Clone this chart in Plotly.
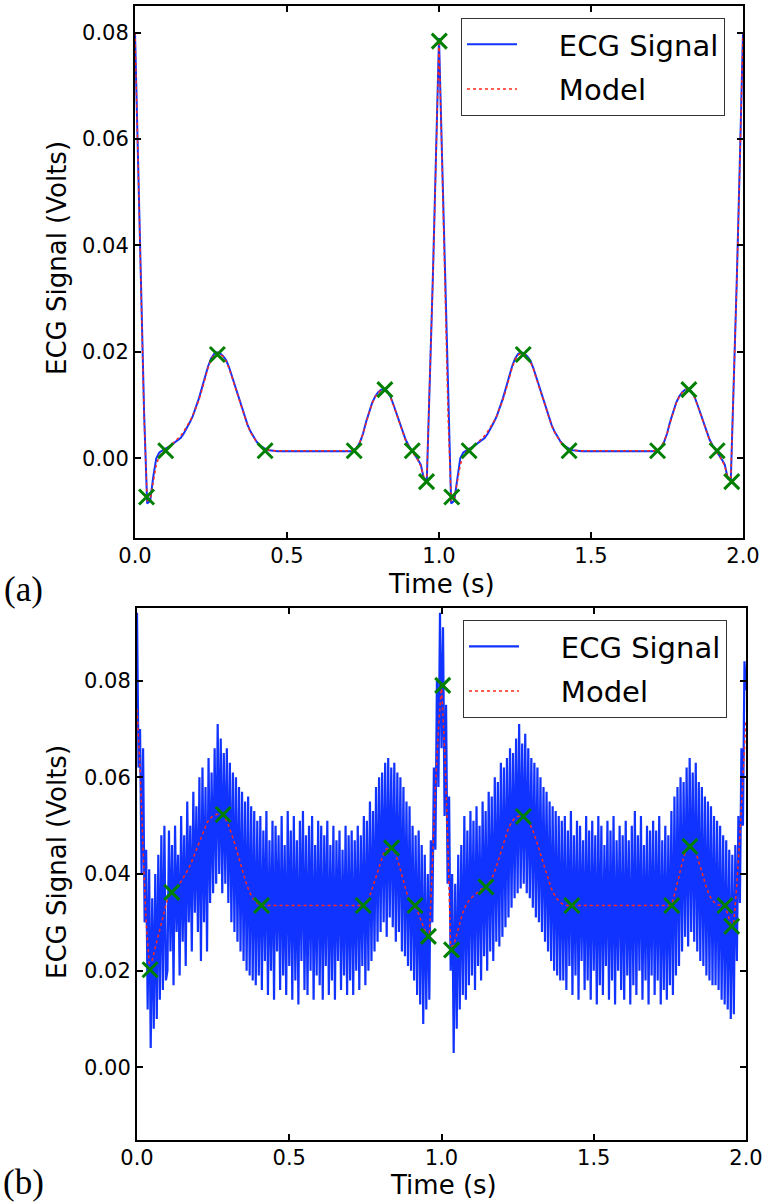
import numpy as np
import plotly.graph_objects as go

# ---------------- data ----------------
# (a) clean ECG, sampled every 0.01 s from 0.00 to 2.00 s
ecg_clean = [
    0.0800, 0.0567, 0.0344, 0.0084, -0.0085, -0.0080, -0.0035, 0.0000, 0.0011, 0.0015,
    0.0018, 0.0021, 0.0025, 0.0029, 0.0033, 0.0038, 0.0046, 0.0056, 0.0067, 0.0079,
    0.0094, 0.0112, 0.0132, 0.0153, 0.0172, 0.0187, 0.0196, 0.0199, 0.0197, 0.0192,
    0.0184, 0.0170, 0.0152, 0.0132, 0.0113, 0.0095, 0.0078, 0.0063, 0.0050, 0.0040,
    0.0031, 0.0024, 0.0020, 0.0017, 0.0015, 0.0014, 0.0013, 0.0013, 0.0013, 0.0013,
    0.0013, 0.0013, 0.0013, 0.0013, 0.0013, 0.0013, 0.0013, 0.0013, 0.0013, 0.0013,
    0.0013, 0.0013, 0.0013, 0.0013, 0.0013, 0.0013, 0.0013, 0.0013, 0.0013, 0.0013,
    0.0013, 0.0013, 0.0015, 0.0020, 0.0030, 0.0046, 0.0068, 0.0088, 0.0104, 0.0116,
    0.0124, 0.0129, 0.0130, 0.0126, 0.0116, 0.0101, 0.0084, 0.0068, 0.0050, 0.0035,
    0.0024, 0.0016, 0.0008, -0.0002, -0.0012, -0.0038, -0.0040, 0.0145, 0.0344, 0.0567,
    0.0790, 0.0567, 0.0344, 0.0084, -0.0085, -0.0080, -0.0035, 0.0000, 0.0011, 0.0015,
    0.0018, 0.0021, 0.0025, 0.0029, 0.0033, 0.0038, 0.0046, 0.0056, 0.0067, 0.0079,
    0.0094, 0.0112, 0.0132, 0.0153, 0.0172, 0.0187, 0.0196, 0.0199, 0.0197, 0.0192,
    0.0184, 0.0170, 0.0152, 0.0132, 0.0113, 0.0095, 0.0078, 0.0063, 0.0050, 0.0040,
    0.0031, 0.0024, 0.0020, 0.0017, 0.0015, 0.0014, 0.0013, 0.0013, 0.0013, 0.0013,
    0.0013, 0.0013, 0.0013, 0.0013, 0.0013, 0.0013, 0.0013, 0.0013, 0.0013, 0.0013,
    0.0013, 0.0013, 0.0013, 0.0013, 0.0013, 0.0013, 0.0013, 0.0013, 0.0013, 0.0013,
    0.0013, 0.0013, 0.0015, 0.0020, 0.0030, 0.0046, 0.0068, 0.0088, 0.0104, 0.0116,
    0.0124, 0.0129, 0.0130, 0.0126, 0.0116, 0.0101, 0.0084, 0.0068, 0.0050, 0.0035,
    0.0024, 0.0016, 0.0008, -0.0002, -0.0012, -0.0038, -0.0040, 0.0145, 0.0344, 0.0567,
    0.0800,
]

model_clean = [
    0.0800, 0.0560, 0.0330, 0.0075, -0.0080, -0.0078, -0.0045, -0.0012, 0.0004, 0.0012,
    0.0017, 0.0021, 0.0026, 0.0031, 0.0036, 0.0042, 0.0050, 0.0059, 0.0069, 0.0080,
    0.0093, 0.0109, 0.0128, 0.0149, 0.0169, 0.0185, 0.0194, 0.0197, 0.0196, 0.0191,
    0.0182, 0.0168, 0.0150, 0.0131, 0.0112, 0.0094, 0.0077, 0.0062, 0.0049, 0.0038,
    0.0030, 0.0024, 0.0019, 0.0016, 0.0015, 0.0014, 0.0014, 0.0014, 0.0014, 0.0014,
    0.0014, 0.0014, 0.0014, 0.0014, 0.0014, 0.0014, 0.0014, 0.0014, 0.0014, 0.0014,
    0.0014, 0.0014, 0.0014, 0.0014, 0.0014, 0.0014, 0.0014, 0.0014, 0.0014, 0.0014,
    0.0014, 0.0014, 0.0016, 0.0021, 0.0031, 0.0046, 0.0066, 0.0086, 0.0103, 0.0115,
    0.0123, 0.0128, 0.0129, 0.0125, 0.0115, 0.0100, 0.0083, 0.0066, 0.0049, 0.0034,
    0.0023, 0.0015, 0.0007, -0.0003, -0.0015, -0.0036, -0.0036, 0.0140, 0.0340, 0.0560,
    0.0785, 0.0560, 0.0330, 0.0075, -0.0080, -0.0078, -0.0045, -0.0012, 0.0004, 0.0012,
    0.0017, 0.0021, 0.0026, 0.0031, 0.0036, 0.0042, 0.0050, 0.0059, 0.0069, 0.0080,
    0.0093, 0.0109, 0.0128, 0.0149, 0.0169, 0.0185, 0.0194, 0.0197, 0.0196, 0.0191,
    0.0182, 0.0168, 0.0150, 0.0131, 0.0112, 0.0094, 0.0077, 0.0062, 0.0049, 0.0038,
    0.0030, 0.0024, 0.0019, 0.0016, 0.0015, 0.0014, 0.0014, 0.0014, 0.0014, 0.0014,
    0.0014, 0.0014, 0.0014, 0.0014, 0.0014, 0.0014, 0.0014, 0.0014, 0.0014, 0.0014,
    0.0014, 0.0014, 0.0014, 0.0014, 0.0014, 0.0014, 0.0014, 0.0014, 0.0014, 0.0014,
    0.0014, 0.0014, 0.0016, 0.0021, 0.0031, 0.0046, 0.0066, 0.0086, 0.0103, 0.0115,
    0.0123, 0.0128, 0.0129, 0.0125, 0.0115, 0.0100, 0.0083, 0.0066, 0.0049, 0.0034,
    0.0023, 0.0015, 0.0007, -0.0003, -0.0015, -0.0036, -0.0036, 0.0140, 0.0340, 0.0560,
    0.0800,
]

fit_t_a = [0.038, 0.101, 0.271, 0.428, 0.721, 0.822, 0.912, 0.959, 1.001,
           1.042, 1.099, 1.277, 1.428, 1.719, 1.822, 1.915, 1.963]
fit_v_a = [-0.0073, 0.0014, 0.0195, 0.0014, 0.0014, 0.0129, 0.0014, -0.0044, 0.0784,
           -0.0073, 0.0014, 0.0195, 0.0014, 0.0014, 0.0129, 0.0014, -0.0044]

# (b) noisy ECG, sampled every 0.005 s from 0.000 to 2.000 s
ecg_noisy = [
    0.094, 0.062, 0.070, 0.040, 0.066, 0.030, 0.045, 0.012, 0.041, 0.004,
    0.035, 0.008, 0.040, 0.010, 0.044, 0.014, 0.048, 0.016, 0.050, 0.018,
    0.020, 0.049, 0.024, 0.046, 0.017, 0.050, 0.028, 0.044, 0.019, 0.052,
    0.026, 0.048, 0.021, 0.055, 0.030, 0.050, 0.024, 0.057, 0.032, 0.054,
    0.028, 0.060, 0.022, 0.062, 0.030, 0.058, 0.024, 0.064, 0.034, 0.061,
    0.036, 0.066, 0.038, 0.071, 0.040, 0.068, 0.036, 0.065, 0.038, 0.066,
    0.034, 0.063, 0.030, 0.061, 0.028, 0.060, 0.026, 0.058, 0.024, 0.057,
    0.022, 0.055, 0.020, 0.056, 0.019, 0.054, 0.018, 0.053, 0.017, 0.051,
    0.019, 0.052, 0.016, 0.049, 0.022, 0.053, 0.015, 0.047, 0.020, 0.051,
    0.014, 0.050, 0.024, 0.048, 0.016, 0.052, 0.019, 0.046, 0.015, 0.053,
    0.021, 0.049, 0.014, 0.052, 0.018, 0.047, 0.013, 0.051, 0.022, 0.053,
    0.016, 0.048, 0.015, 0.050, 0.020, 0.052, 0.014, 0.046, 0.019, 0.051,
    0.017, 0.050, 0.014, 0.048, 0.021, 0.051, 0.015, 0.046, 0.018, 0.050,
    0.014, 0.047, 0.022, 0.049, 0.016, 0.045, 0.019, 0.050, 0.015, 0.048,
    0.018, 0.049, 0.015, 0.047, 0.020, 0.050, 0.016, 0.048, 0.021, 0.052,
    0.017, 0.051, 0.020, 0.055, 0.022, 0.053, 0.024, 0.058, 0.026, 0.060,
    0.028, 0.061, 0.030, 0.063, 0.027, 0.064, 0.031, 0.062, 0.029, 0.063,
    0.026, 0.061, 0.028, 0.060, 0.024, 0.058, 0.023, 0.055, 0.021, 0.054,
    0.020, 0.050, 0.018, 0.048, 0.015, 0.049, 0.013, 0.046, 0.009, 0.044,
    0.012, 0.040, 0.014, 0.047, 0.030, 0.062, 0.045, 0.080, 0.058, 0.094,
    0.066, 0.091, 0.052, 0.075, 0.038, 0.056, 0.020, 0.040, 0.003, 0.038,
    0.008, 0.044, 0.012, 0.046, 0.015, 0.052, 0.014, 0.049, 0.017, 0.053,
    0.019, 0.051, 0.016, 0.054, 0.021, 0.050, 0.018, 0.055, 0.023, 0.053,
    0.020, 0.057, 0.024, 0.056, 0.022, 0.060, 0.026, 0.059, 0.025, 0.063,
    0.027, 0.062, 0.029, 0.064, 0.031, 0.066, 0.033, 0.065, 0.035, 0.068,
    0.036, 0.071, 0.037, 0.067, 0.038, 0.069, 0.036, 0.066, 0.035, 0.064,
    0.033, 0.063, 0.031, 0.062, 0.030, 0.060, 0.028, 0.058, 0.026, 0.057,
    0.024, 0.055, 0.022, 0.054, 0.020, 0.053, 0.019, 0.052, 0.018, 0.051,
    0.018, 0.052, 0.016, 0.049, 0.021, 0.053, 0.015, 0.048, 0.019, 0.051,
    0.014, 0.050, 0.022, 0.047, 0.016, 0.052, 0.018, 0.049, 0.014, 0.051,
    0.020, 0.048, 0.013, 0.052, 0.017, 0.050, 0.015, 0.046, 0.021, 0.051,
    0.014, 0.049, 0.018, 0.052, 0.013, 0.047, 0.020, 0.050, 0.016, 0.048,
    0.014, 0.051, 0.019, 0.047, 0.013, 0.050, 0.017, 0.053, 0.015, 0.048,
    0.020, 0.052, 0.014, 0.046, 0.018, 0.050, 0.013, 0.049, 0.019, 0.051,
    0.015, 0.049, 0.018, 0.052, 0.013, 0.047, 0.016, 0.050, 0.014, 0.048,
    0.017, 0.053, 0.015, 0.056, 0.019, 0.058, 0.021, 0.060, 0.024, 0.059,
    0.027, 0.062, 0.025, 0.064, 0.028, 0.061, 0.026, 0.063, 0.024, 0.059,
    0.022, 0.058, 0.021, 0.056, 0.019, 0.055, 0.018, 0.054, 0.017, 0.052,
    0.017, 0.051, 0.016, 0.050, 0.014, 0.048, 0.013, 0.047, 0.012, 0.045,
    0.010, 0.044, 0.011, 0.046, 0.022, 0.052, 0.034, 0.066, 0.050, 0.084,
    0.078,
]

model_noisy = [
    0.0740, 0.0620, 0.0450, 0.0300, 0.0215, 0.0222, 0.0248, 0.0274, 0.0300, 0.0326,
    0.0348, 0.0358, 0.0365, 0.0372, 0.0380, 0.0390, 0.0400, 0.0412, 0.0426, 0.0442,
    0.0460, 0.0478, 0.0494, 0.0506, 0.0515, 0.0520, 0.0523, 0.0524, 0.0522, 0.0515,
    0.0502, 0.0485, 0.0465, 0.0443, 0.0420, 0.0398, 0.0378, 0.0362, 0.0350, 0.0342,
    0.0337, 0.0335, 0.0335, 0.0335, 0.0335, 0.0335, 0.0335, 0.0335, 0.0335, 0.0335,
    0.0335, 0.0335, 0.0335, 0.0335, 0.0335, 0.0335, 0.0335, 0.0335, 0.0335, 0.0335,
    0.0335, 0.0335, 0.0335, 0.0335, 0.0335, 0.0335, 0.0335, 0.0335, 0.0335, 0.0335,
    0.0335, 0.0335, 0.0335, 0.0335, 0.0335, 0.0338, 0.0348, 0.0365, 0.0385, 0.0408,
    0.0428, 0.0443, 0.0452, 0.0456, 0.0453, 0.0440, 0.0420, 0.0396, 0.0372, 0.0352,
    0.0340, 0.0336, 0.0325, 0.0310, 0.0292, 0.0275, 0.0272, 0.0420, 0.0580, 0.0700,
    0.0790, 0.0660, 0.0480, 0.0250, 0.0252, 0.0275, 0.0300, 0.0320, 0.0335, 0.0345,
    0.0352, 0.0358, 0.0363, 0.0368, 0.0372, 0.0376, 0.0385, 0.0398, 0.0415, 0.0436,
    0.0458, 0.0478, 0.0495, 0.0507, 0.0515, 0.0519, 0.0520, 0.0519, 0.0514, 0.0504,
    0.0490, 0.0472, 0.0452, 0.0430, 0.0408, 0.0388, 0.0371, 0.0358, 0.0348, 0.0341,
    0.0337, 0.0335, 0.0335, 0.0335, 0.0335, 0.0335, 0.0335, 0.0335, 0.0335, 0.0335,
    0.0335, 0.0335, 0.0335, 0.0335, 0.0335, 0.0335, 0.0335, 0.0335, 0.0335, 0.0335,
    0.0335, 0.0335, 0.0335, 0.0335, 0.0335, 0.0335, 0.0335, 0.0335, 0.0335, 0.0335,
    0.0335, 0.0335, 0.0335, 0.0335, 0.0335, 0.0335, 0.0345, 0.0368, 0.0395, 0.0422,
    0.0445, 0.0456, 0.0457, 0.0450, 0.0435, 0.0415, 0.0393, 0.0372, 0.0356, 0.0345,
    0.0339, 0.0336, 0.0335, 0.0333, 0.0318, 0.0295, 0.0300, 0.0380, 0.0480, 0.0600,
    0.0720,
]

fit_t_b = [0.043, 0.114, 0.283, 0.409, 0.743, 0.836, 0.913, 0.957, 1.004,
           1.033, 1.146, 1.269, 1.428, 1.756, 1.816, 1.931, 1.953]
fit_v_b = [0.0202, 0.0362, 0.0523, 0.0335, 0.0335, 0.0454, 0.0335, 0.0271, 0.0790,
           0.0243, 0.0373, 0.0519, 0.0335, 0.0335, 0.0457, 0.0335, 0.0292]

x_ticks = [0.0, 0.5, 1.0, 1.5, 2.0]
x_ticklabels = ["0.0", "0.5", "1.0", "1.5", "2.0"]
y_ticks = [0.00, 0.02, 0.04, 0.06, 0.08]
y_ticklabels = ["0.00", "0.02", "0.04", "0.06", "0.08"]

# sampling grids
t_clean = np.linspace(0.0, 2.0, len(ecg_clean))
t_noisy = np.linspace(0.0, 2.0, len(ecg_noisy))
t_model_b = np.linspace(0.0, 2.0, len(model_noisy))

# ---------------- figure ----------------
W, H = 769, 1204
BLUE = "#1133ff"
RED = "#ff2a1a"
GREEN = "#008000"
FONT = "DejaVu Sans"
PAD = "\u00a0\u00a0\u00a0\u00a0"

fig = go.Figure()

fig.add_trace(go.Scatter(x=t_clean, y=ecg_clean, mode="lines", name=PAD + "ECG Signal",
                         line=dict(color=BLUE, width=2), xaxis="x", yaxis="y",
                         legend="legend", legendgroup="a1"))
fig.add_trace(go.Scatter(x=t_clean, y=model_clean, mode="lines", name=PAD + "Model",
                         line=dict(color=RED, width=1.5, dash="dot"), xaxis="x", yaxis="y",
                         legend="legend", legendgroup="a2"))
fig.add_trace(go.Scatter(x=fit_t_a, y=fit_v_a, mode="markers", showlegend=False,
                         marker=dict(symbol="x-thin", size=15, color=GREEN,
                                     line=dict(color=GREEN, width=3)),
                         xaxis="x", yaxis="y"))

fig.add_trace(go.Scatter(x=t_noisy, y=ecg_noisy, mode="lines", name=PAD + "ECG Signal",
                         line=dict(color=BLUE, width=2.2), xaxis="x2", yaxis="y2",
                         legend="legend2", legendgroup="b1"))
fig.add_trace(go.Scatter(x=t_model_b, y=model_noisy, mode="lines", name=PAD + "Model",
                         line=dict(color=RED, width=1.5, dash="dot"), xaxis="x2", yaxis="y2",
                         legend="legend2", legendgroup="b2"))
fig.add_trace(go.Scatter(x=fit_t_b, y=fit_v_b, mode="markers", showlegend=False,
                         marker=dict(symbol="x-thin", size=15, color=GREEN,
                                     line=dict(color=GREEN, width=3)),
                         xaxis="x2", yaxis="y2"))

axis_common = dict(ticks="inside", ticklen=6, tickwidth=1.5, tickcolor="black",
                   showline=True, linewidth=2, linecolor="black", mirror="allticks",
                   showgrid=False, zeroline=False, automargin=False,
                   tickfont=dict(family=FONT, size=21, color="black"))
xaxis_extra = dict(ticklabelstandoff=-2)

legend_common = dict(xanchor="left", yanchor="top", bgcolor="white",
                     bordercolor="#333333", borderwidth=1,
                     font=dict(family=FONT, size=29, color="black"),
                     traceorder="grouped", tracegroupgap=4, itemwidth=50)

fig.update_layout(
    width=W, height=H, autosize=False,
    margin=dict(l=0, r=0, t=0, b=0, pad=0, autoexpand=False),
    paper_bgcolor="white", plot_bgcolor="white",
    font=dict(family=FONT, color="black"),
    xaxis=dict(domain=[135 / W, 743 / W], range=[0, 2], anchor="y",
               tickvals=x_ticks, ticktext=x_ticklabels, **axis_common, **xaxis_extra),
    yaxis=dict(domain=[1 - 538 / H, 1 - 6 / H], range=[-0.015, 0.085], anchor="x",
               tickvals=y_ticks, ticktext=y_ticklabels, **axis_common),
    xaxis2=dict(domain=[137 / W, 746 / W], range=[0, 2], anchor="y2",
                tickvals=x_ticks, ticktext=x_ticklabels, **axis_common, **xaxis_extra),
    yaxis2=dict(domain=[1 - 1140 / H, 1 - 608 / H], range=[-0.015, 0.095], anchor="x2",
                tickvals=y_ticks, ticktext=y_ticklabels, **axis_common),
    legend=dict(x=461 / W, y=1 - 18 / H, **legend_common),
    legend2=dict(x=463 / W, y=1 - 620 / H, **legend_common),
)

annots = [
    dict(text="ECG Signal (Volts)", x=57 / W, y=1 - 258 / H, textangle=-90,
         font=dict(family=FONT, size=26), yanchor="middle"),
    dict(text="ECG Signal (Volts)", x=57 / W, y=1 - 862 / H, textangle=-90,
         font=dict(family=FONT, size=26), yanchor="middle"),
    dict(text="Time (s)", x=441 / W, y=1 - 584 / H, font=dict(family=FONT, size=26),
         yanchor="middle"),
    dict(text="Time (s)", x=443 / W, y=1 - 1185 / H, font=dict(family=FONT, size=26),
         yanchor="middle"),
    dict(text="(a)", x=23 / W, y=1 - 589 / H, font=dict(family="Liberation Serif", size=35),
         yanchor="middle"),
    dict(text="(b)", x=23 / W, y=0.0, font=dict(family="Liberation Serif", size=35),
         yanchor="bottom"),
]
for a in annots:
    fig.add_annotation(xref="paper", yref="paper", showarrow=False, xanchor="center", **a)

fig.write_html(
    "out.html",
    config={"displayModeBar": False},
    post_script="document.body.style.margin='0';document.body.style.overflow='hidden';",
)
